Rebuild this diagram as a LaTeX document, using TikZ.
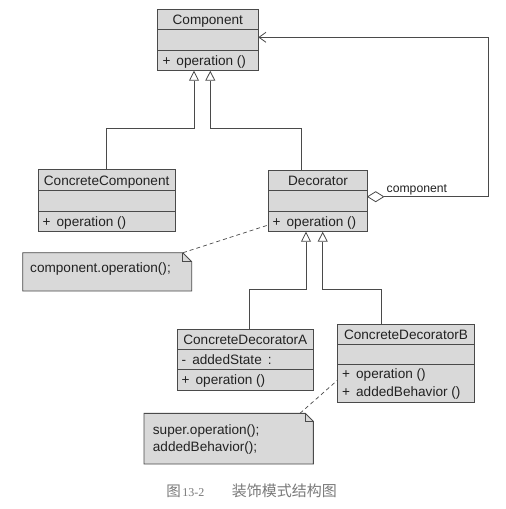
\documentclass[tikz,border=0pt]{standalone}
\usepackage{fontspec}
\setmainfont{Liberation Sans}
\newfontfamily\cjk{Noto Sans CJK SC}
\newfontfamily\capserif{Liberation Serif}
\usetikzlibrary{arrows.meta,calc}
\definecolor{boxfill}{HTML}{D9D9D9}
\definecolor{linec}{HTML}{4A4A4A}
\definecolor{txtc}{HTML}{222222}
\definecolor{capc}{HTML}{7A7A7A}
\begin{document}
\begin{tikzpicture}[x=1pt,y=-1pt,
  cls/.style={draw=linec,fill=boxfill,line width=0.9pt,anchor=north west,inner sep=0pt,outer sep=0pt},
  sep/.style={draw=linec,line width=0.9pt},
  lbl/.style={font=\fontsize{13.6}{16}\selectfont,text=txtc,inner sep=0pt},
  cname/.style={lbl,anchor=base},
  member/.style={lbl,anchor=base west},
  conn/.style={draw=linec,line width=0.8pt},
  inh/.style={conn,-{Triangle[open,length=10pt,width=10pt,fill=white]}},
  notelink/.style={draw=linec,line width=0.7pt,dash pattern=on 4pt off 3pt},
  notebox/.style={draw=linec,fill=boxfill,line width=0.9pt}]
\useasboundingbox (0,0) rectangle (506,509);
\fill[white] (0,0) rectangle (506,509);

% Component
\node[cls,minimum width=101pt,minimum height=61.4pt] (comp) at (157.3,9.3) {};
\draw[sep] (157.3,29.3) -- (258.3,29.3) (157.3,50) -- (258.3,50);
\node[cname] (compn) at (207.8,24) {Component};
\node[member] (compo) at (162.3,65) {+\ \,operation ()};

% ConcreteComponent
\node[cls,minimum width=136.7pt,minimum height=62.4pt] (cc) at (38.3,169.3) {};
\draw[sep] (38.3,190.7) -- (175,190.7) (38.3,211.7) -- (175,211.7);
\node[cname] (ccn) at (106.65,185) {ConcreteComponent};
\node[member] (cco) at (42.5,226.3) {+\ \,operation ()};

% Decorator
\node[cls,minimum width=99.4pt,minimum height=61.7pt] (dec) at (268.3,170) {};
\draw[sep] (268.3,190.7) -- (367.7,190.7) (268.3,211) -- (367.7,211);
\node[cname] (decn) at (318,185.3) {Decorator};
\node[member] (deco) at (272.5,226) {+\ \,operation ()};

% ConcreteDecoratorA
\node[cls,minimum width=136pt,minimum height=60.7pt] (cda) at (177.3,329.3) {};
\draw[sep] (177.3,349) -- (313.3,349) (177.3,369.3) -- (313.3,369.3);
\node[cname] (cdan) at (245.3,344) {ConcreteDecoratorA};
\node[member] (cdaa) at (181.5,364) {-\ \,addedState\ \,:};
\node[member] (cdao) at (181.5,384.5) {+\ \,operation ()};

% ConcreteDecoratorB
\node[cls,minimum width=136.6pt,minimum height=78.3pt] (cdb) at (337.7,324) {};
\draw[sep] (337.7,344) -- (474.3,344) (337.7,364.7) -- (474.3,364.7);
\node[cname] (cdbn) at (406,339) {ConcreteDecoratorB};
\node[member] (cdbo) at (342,378.7) {+\ \,operation ()};
\node[member] (cdbb) at (342,396.4) {+\ \,addedBehavior ()};

% Note 1
\draw[notebox] (22.7,252.7) -- (182.7,252.7) -- (191.7,261.7) -- (191.7,291) -- (22.7,291) -- cycle;
\draw[sep,line width=0.7pt] (182.7,252.7) -- (182.7,261.7) -- (191.7,261.7);
\coordinate (n1) at (183,252.7);
\node[member] (n1t) at (30,272.6) {component.operation();};

% Note 2
\draw[notebox] (144,413.3) -- (305.3,413.3) -- (313.3,421.3) -- (313.3,464) -- (144,464) -- cycle;
\draw[sep,line width=0.7pt] (305.3,413.3) -- (305.3,421.3) -- (313.3,421.3);
\coordinate (n2) at (300,413.3);
\node[member] (n2a) at (152.7,434.7) {super.operation();};
\node[member] (n2b) at (152.7,451.6) {addedBehavior();};

% note links
\draw[notelink] (n1) -- ($(dec.south west)+(0,-6.7)$);
\draw[notelink] (n2) -- ($(cdb.north west)+(0,56)$);

% generalizations to Component
\draw[inh] (cc.north) |- (194,128) -- ($(comp.south west)+(36.7,0)$);
\draw[inh] ($(dec.north west)+(33.4,0)$) |- (210.3,128) -- ($(comp.south west)+(53,0)$);

% generalizations to Decorator
\draw[inh] ($(cda.north west)+(72,0)$) |- (306,289.3) -- ($(dec.south west)+(37.7,0)$);
\draw[inh] ($(cdb.north west)+(44,0)$) |- (322.7,289.3) -- ($(dec.south west)+(54.4,0)$);

% aggregation
\coordinate (dr) at ($(dec.north east)+(0,26.7)$);
\draw[conn,fill=white] (dr) -- ++(8,-5) -- ++(8,5) -- ++(-8,5) -- cycle;
\draw[conn,-{Straight Barb[length=7pt,width=10pt]}] ($(dr)+(16,0)$) -- (488.3,196.7) |- ($(comp.north east)+(0,28)$);
\node[lbl,anchor=base west,font=\fontsize{12.2}{14}\selectfont] (agl) at (386.5,192.3) {component};

% caption
\node[anchor=base west,inner sep=0pt,text=capc,font=\fontsize{14.5}{16}\selectfont] (cap1) at (166.2,496) {{\cjk 图}\hspace{1.5pt}{\capserif\fontsize{12}{16}\selectfont 13-2}};
\node[anchor=base west,inner sep=0pt,text=capc,font=\fontsize{15}{16}\selectfont\cjk] (cap2) at (231.7,496) {装饰模式结构图};
\end{tikzpicture}
\end{document}
